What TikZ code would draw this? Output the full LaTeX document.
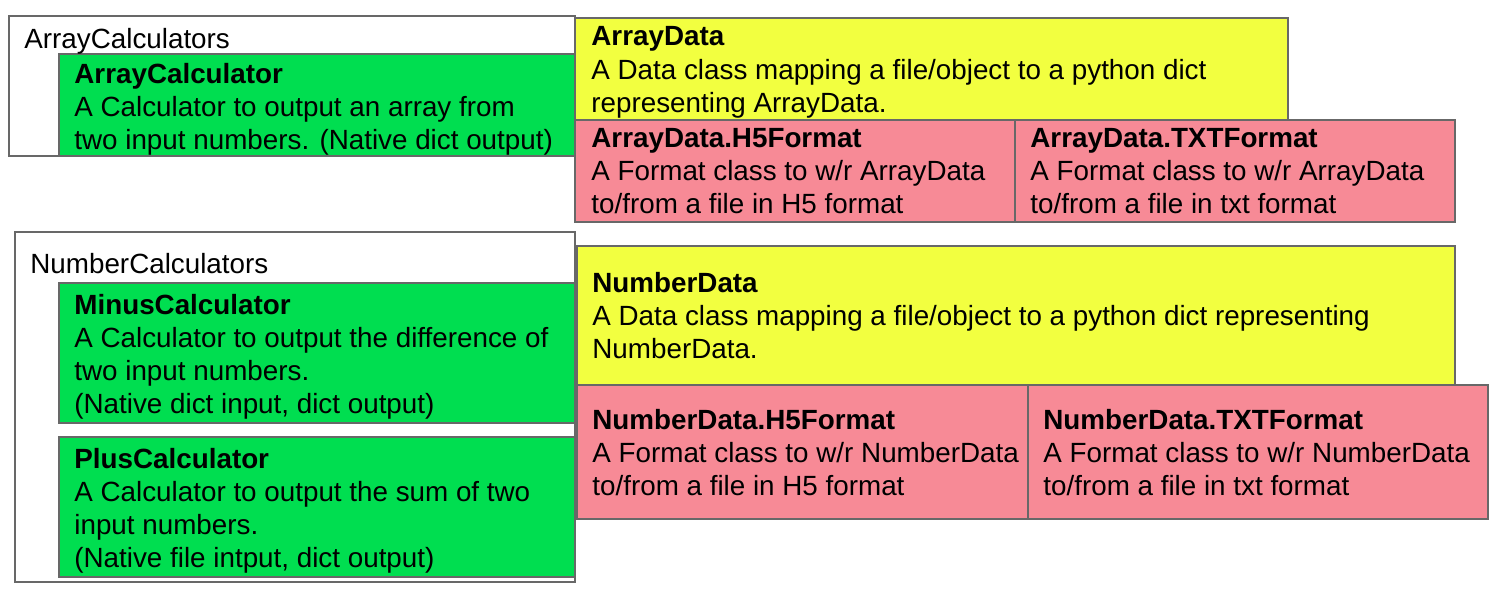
\documentclass[tikz,border=0pt]{standalone}
\usepackage{fontspec}
\setmainfont{Liberation Sans}
\definecolor{calcgreen}{RGB}{0,222,80}
\definecolor{datayellow}{RGB}{242,255,64}
\definecolor{fmtpink}{RGB}{247,138,150}
\definecolor{edgegray}{RGB}{104,104,104}
\begin{document}
\begin{tikzpicture}[x=0.5pt,y=-0.5pt,
  box/.style={draw=edgegray,line width=0.75pt},
  grp/.style={box,fill=white},
  calc/.style={box,fill=calcgreen},
  data/.style={box,fill=datayellow},
  fmt/.style={box,fill=fmtpink},
  % multi-line labels are placed by the baseline of their last line
  txt/.style={anchor=base west,inner sep=0pt,align=left,
    font=\fontsize{13.9pt}{16.5pt}\selectfont},
]
\fill[white] (0,0) rectangle (1498,594);
\useasboundingbox (0,0) rectangle (1498,594);

% array package
\path[grp] (9,16) rectangle (575,156);
\path[calc] (59,54) rectangle (575,156);
\path[data] (575,18) rectangle (1288,120);
\path[fmt] (575,120) rectangle (1015,222);
\path[fmt] (1015,120) rectangle (1455,222);

% number package
\path[grp] (15,232) rectangle (575,582);
\path[calc] (59,283) rectangle (575,423);
\path[calc] (59,437) rectangle (575,577);
\path[data] (577,246) rectangle (1455,385);
\path[fmt] (577,385) rectangle (1028,519);
\path[fmt] (1028,385) rectangle (1488,519);

% labels
\node[txt] (arraygrp) at (24,48) {ArrayCalculators};
\node[txt] (arraycalc) at (74,149) {\textbf{ArrayCalculator}\\A Calculator to output an array from\\two input numbers. (Native dict output)};
\node[txt] (arraydata) at (591,112) {\textbf{ArrayData}\\A Data class mapping a file/object to a python dict\\representing ArrayData.};
\node[txt] (arrayh5) at (591,213.5) {\textbf{ArrayData.H5Format}\\A Format class to w/r ArrayData\\to/from a file in H5 format};
\node[txt] (arraytxt) at (1030,213.5) {\textbf{ArrayData.TXTFormat}\\A Format class to w/r ArrayData\\to/from a file in txt format};

\node[txt] (numgrp) at (30,273) {NumberCalculators};
\node[txt] (minuscalc) at (74,413) {\textbf{MinusCalculator}\\A Calculator to output the difference of\\two input numbers.\\(Native dict input, dict output)};
\node[txt] (pluscalc) at (74,567) {\textbf{PlusCalculator}\\A Calculator to output the sum of two\\input numbers.\\(Native file intput, dict output)};
\node[txt] (numdata) at (592,358.5) {\textbf{NumberData}\\A Data class mapping a file/object to a python dict representing\\NumberData.};
\node[txt] (numh5) at (592,495) {\textbf{NumberData.H5Format}\\A Format class to w/r NumberData\\to/from a file in H5 format};
\node[txt] (numtxt) at (1043,495) {\textbf{NumberData.TXTFormat}\\A Format class to w/r NumberData\\to/from a file in txt format};
\end{tikzpicture}
\end{document}
